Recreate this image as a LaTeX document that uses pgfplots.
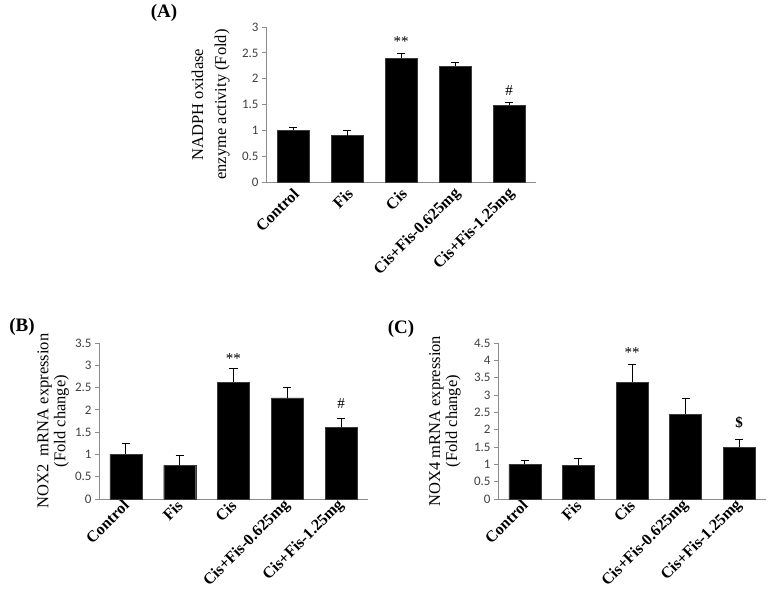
\documentclass[border=0pt]{standalone}
\usepackage{fontspec}
\setmainfont{Liberation Serif}
\newfontfamily\carlito{Carlito}
\usepackage{pgfplots}
\pgfplotsset{compat=1.18}
\definecolor{axgray}{HTML}{8C8C8C}
\definecolor{tickgray}{HTML}{404040}
\definecolor{baredge}{HTML}{3A3A3A}
\tikzset{note/.style={font=\fontsize{15bp}{17bp}\selectfont}}
\pgfplotsset{
  panel/.style={
    scale only axis,
    ybar, bar width=32bp,
    xmin=-0.5, xmax=4.5, ymin=0,
    xtick={0,1,2,3,4},
    xticklabels={Control,Fis,Cis,Cis+Fis-0.625mg,Cis+Fis-1.25mg},
    axis x line*=bottom, axis y line*=left,
    axis line style={axgray, line width=0.8bp},
    ytick style={axgray, line width=0.8bp},
    tick align=outside, major tick length=4bp,
    xtick style={draw=none},
    ytick distance=0.5,
    /pgf/number format/assume math mode=true,
    yticklabel style={font=\carlito\fontsize{13bp}{15bp}\selectfont, text=tickgray},
    xticklabel style={font=\bfseries\fontsize{16bp}{18bp}\selectfont, rotate=45, anchor=east, inner sep=1.5bp},
    ylabel style={font=\fontsize{16.5bp}{20bp}\selectfont, align=center, anchor=center},
    clip=false,
  },
  errs/.style={
    fill=black, draw=baredge,
    error bars/.cd, y dir=plus, y explicit,
    error bar style={black, line width=0.9bp},
    error mark options={rotate=90, mark size=4bp, black, line width=0.9bp},
  },
}
\begin{document}
\begin{tikzpicture}
\useasboundingbox (0,0) rectangle (770bp,-591bp);
% Panel A
\begin{axis}[panel, at={(266bp,-182bp)}, anchor=south west,
  width=270bp, height=155bp, ymax=3,
  xticklabel style={yshift=-6bp},
  ylabel={NADPH oxidase\\enzyme activity (Fold)},
  ylabel style={at={(axis description cs:-0.205,0.5)}, font=\fontsize{16.5bp}{23bp}\selectfont}]
\addplot[errs] coordinates {
  (0,1.00) +- (0,0.065)
  (1,0.90) +- (0,0.09)
  (2,2.40) +- (0,0.08)
  (3,2.245) +- (0,0.075)
  (4,1.49) +- (0,0.045)
};
\node[note] at (axis cs:2,2.71) {**};
\node[note] at (axis cs:4,1.77) {\#};
\end{axis}
% Panel B
\begin{axis}[panel, at={(99bp,-499bp)}, anchor=south west,
  width=269bp, height=156bp, ymax=3.5,
  xticklabel style={xshift=2bp},
  ylabel={NOX2\ \ mRNA expression\\(Fold change)},
  ylabel style={at={(axis description cs:-0.17,0.5)}, font=\fontsize{16.5bp}{17bp}\selectfont}]
\addplot[errs] coordinates {
  (0,1.00) +- (0,0.245)
  (1,0.755) +- (0,0.215)
  (2,2.625) +- (0,0.295)
  (3,2.27) +- (0,0.235)
  (4,1.61) +- (0,0.19)
};
\node[note] at (axis cs:2,3.14) {**};
\node[note] at (axis cs:4,2.15) {\#};
\end{axis}
% Panel C
\begin{axis}[panel, at={(498bp,-499bp)}, anchor=south west,
  width=268bp, height=156bp, ymax=4.5,
  xticklabel style={xshift=2bp},
  ylabel={NOX4 mRNA expression\\(Fold change)},
  ylabel style={at={(axis description cs:-0.198,0.5)}, font=\fontsize{16.5bp}{17bp}\selectfont}]
\addplot[errs] coordinates {
  (0,1.00) +- (0,0.11)
  (1,0.97) +- (0,0.19)
  (2,3.375) +- (0,0.515)
  (3,2.45) +- (0,0.46)
  (4,1.50) +- (0,0.23)
};
\node[note] at (axis cs:2,4.23) {**};
\node[note] at (axis cs:4,2.19) {\textbf{\$}};
\end{axis}
\node[font=\bfseries\fontsize{19bp}{21bp}\selectfont] at (164bp,-13bp) {(A)};
\node[font=\bfseries\fontsize{19bp}{21bp}\selectfont] at (22bp,-327bp) {(B)};
\node[font=\bfseries\fontsize{19bp}{21bp}\selectfont] at (401bp,-329bp) {(C)};
\end{tikzpicture}
\end{document}
